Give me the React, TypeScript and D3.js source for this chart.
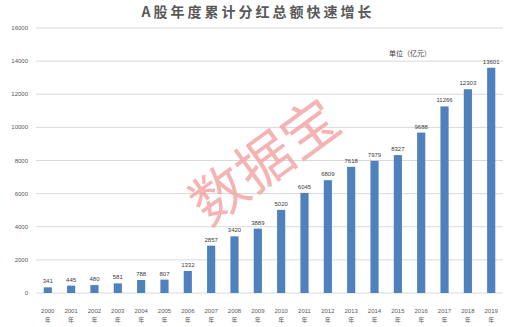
import React from "react";
import * as d3 from "d3";

const years = ["2000","2001","2002","2003","2004","2005","2006","2007","2008","2009","2010","2011","2012","2013","2014","2015","2016","2017","2018","2019"];
const values = [341,445,480,581,788,807,1332,2857,3420,3889,5020,6045,6809,7618,7979,8327,9688,11266,12303,13601];
const yTicks = [0,2000,4000,6000,8000,10000,12000,14000,16000];
const title = "A股年度累计分红总额快速增长";
const unitLabel = "单位（亿元）";
const watermark = "数据宝";

export default function App() {
  const W = 516, H = 327;
  const left = 36, right = 503, top = 28, bottom = 293;
  const x = d3.scaleBand<string>().domain(years).range([left, right]).paddingInner(0.65).paddingOuter(0.33);
  const y = d3.scaleLinear().domain([0, 16000]).range([bottom, top]);
  const font = "'Liberation Sans', 'Noto Sans CJK SC', sans-serif";
  const cjk = "'Noto Sans CJK SC', sans-serif";
  return (
    <div style={{ position: "absolute", left: 0, top: 0 }}>
      <svg width={W} height={H} style={{ display: "block", background: "#fff" }}>
        <text x={258} y={17} textAnchor="middle" fontFamily={cjk} fontWeight="bold" fontSize={14} letterSpacing={3} fill="#595959">{title}</text>
        {yTicks.map((t) => (
          <g key={t}>
            <line x1={left} x2={right} y1={y(t)} y2={y(t)} stroke="#d9d9d9" strokeWidth={1} />
            <text x={28} y={y(t) + 2} textAnchor="end" fontFamily={font} fontSize={6} fill="#595959">{t}</text>
          </g>
        ))}
        {years.map((yr, i) => {
          const bx = x(yr)!;
          const bw = x.bandwidth();
          const cx = bx + bw / 2;
          return (
            <g key={yr}>
              <rect x={bx} y={y(values[i])} width={bw} height={bottom - y(values[i])} fill="#4f81bd" />
              <text x={cx} y={y(values[i]) - 4} textAnchor="middle" fontFamily={font} fontSize={6} fill="#404040">{values[i]}</text>
              <text x={cx} y={313} textAnchor="middle" fontFamily={font} fontSize={6} fill="#595959">{yr}</text>
              <text x={cx} y={322} textAnchor="middle" fontFamily={cjk} fontSize={6} fill="#595959">年</text>
            </g>
          );
        })}
        <text x={389} y={56} fontFamily={cjk} fontSize={7} fill="#404040">{unitLabel}</text>
        <text x={0} y={0} transform="translate(262,158) rotate(-36)" textAnchor="middle" dominantBaseline="central" fontFamily={cjk} fontSize={56} fill="#f4a0a0" fillOpacity={0.8}>{watermark}</text>
      </svg>
    </div>
  );
}
